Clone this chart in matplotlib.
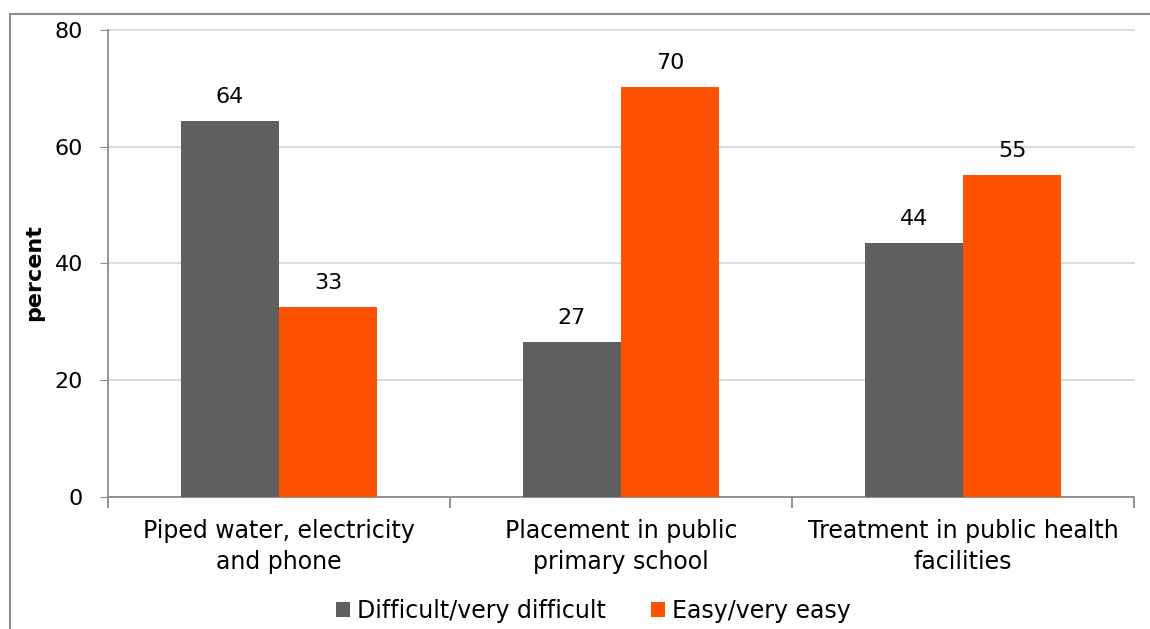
import matplotlib.pyplot as plt
import numpy as np
from matplotlib.patches import Rectangle

categories = ["Piped water, electricity\nand phone",
              "Placement in public\nprimary school",
              "Treatment in public health\nfacilities"]
series_names = ["Difficult/very difficult", "Easy/very easy"]
difficult = [64.4, 26.6, 43.5]
easy = [32.6, 70.2, 55.1]
labels_difficult = ["64", "27", "44"]
labels_easy = ["33", "70", "55"]

plt.rcParams['font.family'] = ['DejaVu Sans']

fig = plt.figure(figsize=(11.5, 6.29), dpi=100)
ax = fig.add_axes([0.0939, 0.2099, 0.8922, 0.7424])

# outer frame
fig.patches.append(Rectangle((10 / 1150, -0.1), 1.2, 1 - 14 / 629 + 0.1,
                             transform=fig.transFigure, fill=False,
                             edgecolor='#8c8c8c', linewidth=1.5))

x = np.arange(len(categories))
w = 0.287
b1 = ax.bar(x - w / 2, difficult, w, color='#5f5f5f', label=series_names[0], zorder=3)
b2 = ax.bar(x + w / 2, easy, w, color='#ff5200', label=series_names[1], zorder=3)

for bars, labs in ((b1, labels_difficult), (b2, labels_easy)):
    for r, t in zip(bars, labs):
        ax.annotate(t, (r.get_x() + r.get_width() / 2, r.get_height()),
                    xytext=(0, 10), textcoords='offset points',
                    ha='center', va='bottom', fontsize=16)

ax.set_xlim(-0.5, 2.5)
ax.set_ylim(0, 80)
ax.set_yticks([0, 20, 40, 60, 80])
ax.yaxis.grid(True, color='#d9d9d9', linewidth=1.3, zorder=0)
for gl in ax.get_ygridlines():
    gl.set_clip_on(False)
ax.tick_params(axis='y', length=6, color='#8c8c8c', labelsize=16, pad=12)

ax.set_xticks(x)
ax.set_xticklabels(categories, fontsize=17, linespacing=1.35)
ax.tick_params(axis='x', length=0, pad=16)
ax.set_xticks([-0.5, 0.5, 1.5, 2.5], minor=True)
ax.tick_params(axis='x', which='minor', length=8, color='#8c8c8c', width=1.3)

for s in ('top', 'right'):
    ax.spines[s].set_visible(False)
for s in ('left', 'bottom'):
    ax.spines[s].set_color('#8c8c8c')
    ax.spines[s].set_linewidth(1.3)

ax.text(-0.072, 0.48, "percent", transform=ax.transAxes, rotation=90,
        ha='center', va='center', fontsize=16, fontweight='bold')

fig.legend(handles=[b1, b2], loc='center', bbox_to_anchor=(0.516, 0.029),
           ncol=2, frameon=False, fontsize=17, handlelength=0.6,
           handleheight=0.6, handletextpad=0.3, columnspacing=1.9)

fig.savefig("out.png", dpi=100)
